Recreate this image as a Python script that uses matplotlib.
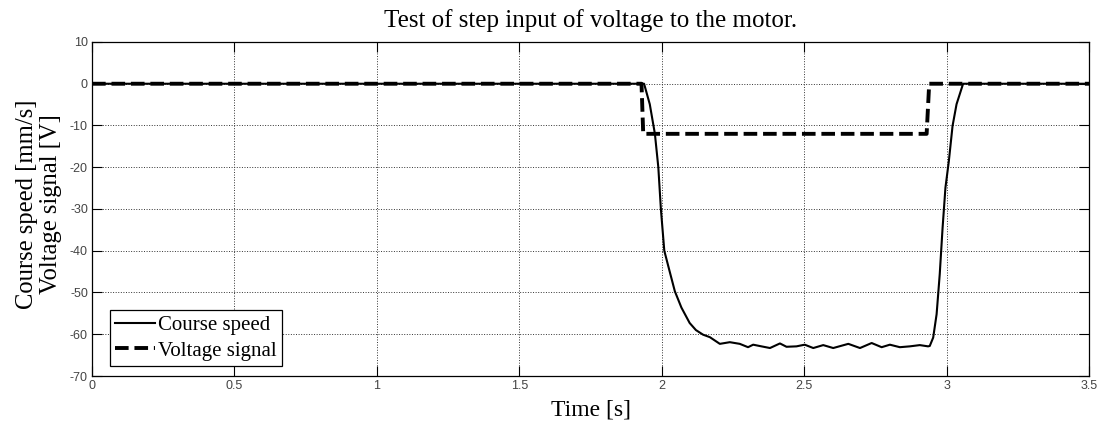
import numpy as np
import matplotlib.pyplot as plt

# speed response
speed_t = [0.0, 1.938, 1.958, 1.976, 1.988, 1.997, 2.009, 2.028, 2.046, 2.069,
           2.098, 2.120, 2.145, 2.169, 2.204, 2.239, 2.274, 2.303, 2.321, 2.350,
           2.380, 2.415, 2.438, 2.473, 2.502, 2.532, 2.567, 2.602, 2.655, 2.696,
           2.737, 2.772, 2.801, 2.836, 2.871, 2.906, 2.935, 2.941, 2.953, 2.965,
           2.976, 2.986, 2.996, 3.008, 3.021, 3.035, 3.058, 3.5]
speed_v = [0.0, 0.0, -4.9, -12.0, -20.0, -30.0, -40.0, -45.0, -49.7, -53.6,
           -57.3, -59.0, -60.1, -60.7, -62.3, -61.9, -62.3, -63.1, -62.5, -62.9,
           -63.3, -62.2, -63.0, -62.9, -62.5, -63.3, -62.6, -63.3, -62.3, -63.3,
           -62.1, -63.1, -62.5, -63.1, -62.9, -62.6, -62.9, -62.8, -60.8, -55.2,
           -45.6, -34.5, -24.9, -18.5, -10.1, -4.9, 0.0, 0.0]

# voltage step
volt_t = [0.0, 1.929, 1.935, 2.930, 2.939, 3.5]
volt_v = [0.0, 0.0, -12.0, -12.0, 0.0, 0.0]

serif = "Liberation Serif"
sans = "Liberation Sans"
plt.rcParams["axes.unicode_minus"] = False

fig = plt.figure(figsize=(11.01, 4.24), dpi=100)
ax = fig.add_axes([0.0836, 0.1132, 0.9055, 0.7878])

ax.plot(speed_t, speed_v, "-", color="black", lw=1.5, label="Course speed")
ax.plot(volt_t, volt_v, "--", color="black", lw=2.8, dashes=(3.5, 1.5),
        label="Voltage signal")

ax.set_xlim(0, 3.5)
ax.set_ylim(-70, 10)
ax.set_xticks(np.arange(0, 3.51, 0.5))
ax.set_xticklabels(["0", "0.5", "1", "1.5", "2", "2.5", "3", "3.5"])
ax.set_yticks(np.arange(-70, 11, 10))
ax.tick_params(direction="in", top=True, right=True, length=7,
               labelsize=9, labelcolor="#444444", pad=3)
for lbl in ax.get_xticklabels() + ax.get_yticklabels():
    lbl.set_fontfamily(sans)
ax.grid(True, linestyle=":", color="#333333", lw=0.7)
for s in ax.spines.values():
    s.set_linewidth(0.9)

ax.set_title("Test of step input of voltage to the motor.", fontfamily=serif,
             fontsize=18, pad=11)
ax.set_xlabel("Time [s]", fontfamily=serif, fontsize=17, labelpad=5)
ax.set_ylabel("Course speed [mm/s]\nVoltage signal [V]", fontfamily=serif,
              fontsize=17.7, linespacing=1.1)
ax.yaxis.set_label_coords(-0.030, 0.515)

leg = ax.legend(loc="lower left", bbox_to_anchor=(0.018, 0.03), borderaxespad=0,
                prop={"family": serif, "size": 15}, fancybox=False,
                edgecolor="black", framealpha=1, handlelength=1.9,
                handletextpad=0.15, borderpad=0.25, labelspacing=0.3)
leg.get_frame().set_linewidth(0.9)

plt.savefig("out.png", dpi=100)
plt.close()
